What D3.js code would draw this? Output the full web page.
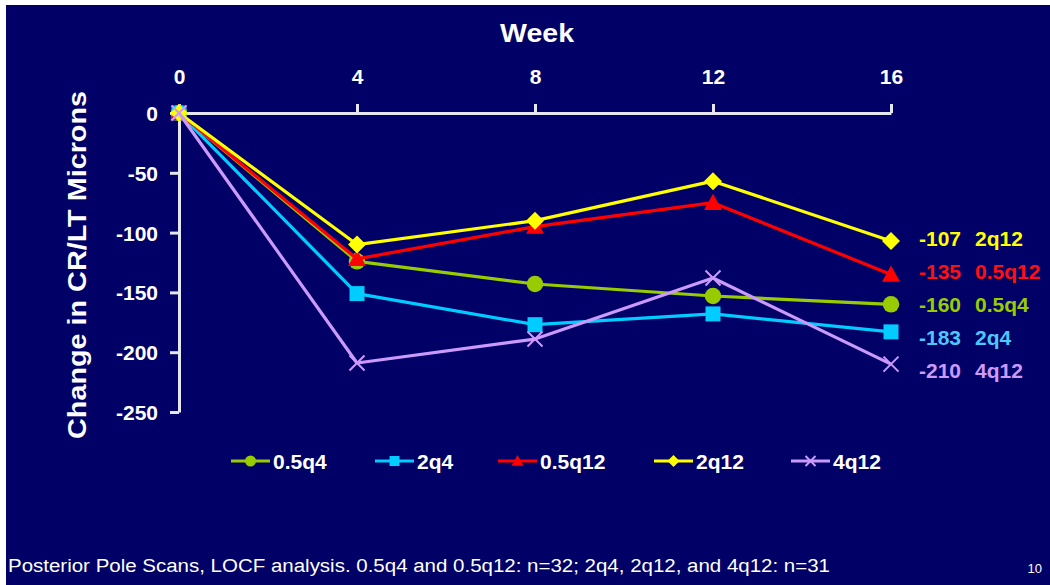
<!DOCTYPE html>
<html>
<head>
<meta charset="utf-8">
<script src="https://cdn.jsdelivr.net/npm/d3@7"></script>
<style>
  html, body { margin: 0; padding: 0; background: #ffffff; }
  svg { display: block; }
  text { font-family: "Liberation Sans", Arial, sans-serif; }
</style>
</head>
<body>
<svg id="chart" width="1050" height="585"></svg>
<script>
// Weeks on the x axis and the y-axis tick values
const weeks = [0, 4, 8, 12, 16];
const yTicks = [0, -50, -100, -150, -200, -250];

// Series names, colours and mean change in CR/LT (microns) at each week
const seriesNames = ["0.5q4", "2q4", "0.5q12", "2q12", "4q12"];
const seriesColors = ["#99cc00", "#00ccff", "#ff0000", "#ffff00", "#cc99ff"];
const seriesShapes = ["circle", "square", "triangle", "diamond", "cross"];
const values_05q4 = [0, -124, -143, -153, -160];
const values_2q4 = [0, -151, -177, -168, -183];
const values_05q12 = [0, -122, -95, -75, -135];
const values_2q12 = [0, -110, -90, -57, -107];
const values_4q12 = [0, -209, -189, -138, -210];
const seriesValues = [values_05q4, values_2q4, values_05q12, values_2q12, values_4q12];

// End-of-study labels, listed top to bottom
const endOrder = [3, 2, 0, 1, 4];
const endLabelColors = ["#99cc00", "#4cc8ff", "#ff1010", "#ffff00", "#cc99ff"];

const footnote = "Posterior Pole Scans, LOCF analysis. 0.5q4 and 0.5q12: n=32; 2q4, 2q12, and 4q12: n=31";
const pageNumber = "10";

const svg = d3.select("#chart");

// Slide background with a thin white edge at top and left
svg.append("rect").attr("x", 6).attr("y", 5).attr("width", 1044).attr("height", 580).attr("fill", "#000066");

const x = d3.scaleLinear().domain([0, 16]).range([179, 891]);
const y = d3.scaleLinear().domain([0, -250]).range([113, 412]);

const axisColor = "#e6e6ee";
const plainNumber = d => String(d);

// Top x axis
const xAxis = svg.append("g")
  .attr("transform", `translate(0,${y(0)})`)
  .call(d3.axisTop(x).tickValues(weeks).tickFormat(plainNumber)
    .tickSize(9).tickSizeOuter(0).tickPadding(20));
// Left y axis
const yAxis = svg.append("g")
  .attr("transform", `translate(${x(0)},0)`)
  .call(d3.axisLeft(y).tickValues(yTicks).tickFormat(plainNumber)
    .tickSize(9).tickSizeOuter(0).tickPadding(12));

[xAxis, yAxis].forEach(g => {
  g.select(".domain").attr("stroke", axisColor).attr("stroke-width", 3);
  g.selectAll(".tick line").attr("stroke", axisColor).attr("stroke-width", 3);
  g.selectAll(".tick text")
    .attr("fill", "#ffffff")
    .attr("font-weight", "bold")
    .attr("font-size", 21)
    .attr("font-family", "Liberation Sans, Arial, sans-serif");
});
xAxis.selectAll(".tick text").attr("dy", "0em");
yAxis.selectAll(".tick text").attr("dy", "0.36em");

// Axis titles
svg.append("text")
  .attr("x", 537).attr("y", 42)
  .attr("text-anchor", "middle")
  .attr("fill", "#ffffff").attr("font-weight", "bold").attr("font-size", 26)
  .attr("textLength", 74).attr("lengthAdjust", "spacingAndGlyphs")
  .text("Week");

svg.append("text")
  .attr("transform", "translate(86,265) rotate(-90)")
  .attr("text-anchor", "middle")
  .attr("fill", "#ffffff").attr("font-weight", "bold").attr("font-size", 26)
  .attr("textLength", 348).attr("lengthAdjust", "spacingAndGlyphs")
  .text("Change in CR/LT Microns");

// Marker drawing helper
function drawMarker(g, shape, color, cx, cy, s) {
  if (shape === "circle") {
    g.append("circle").attr("cx", cx).attr("cy", cy).attr("r", s * 0.55).attr("fill", color);
  } else if (shape === "square") {
    g.append("rect").attr("x", cx - s * 0.5).attr("y", cy - s * 0.5)
      .attr("width", s).attr("height", s).attr("fill", color);
  } else if (shape === "triangle") {
    const h = s * 0.6;
    g.append("path")
      .attr("d", `M${cx},${cy - h}L${cx + h},${cy + h * 0.8}L${cx - h},${cy + h * 0.8}Z`)
      .attr("fill", color);
  } else if (shape === "diamond") {
    const h = s * 0.6;
    g.append("path")
      .attr("d", `M${cx},${cy - h}L${cx + h},${cy}L${cx},${cy + h}L${cx - h},${cy}Z`)
      .attr("fill", color);
  } else if (shape === "cross") {
    const h = s * 0.5;
    g.append("path")
      .attr("d", `M${cx - h},${cy - h}L${cx + h},${cy + h}M${cx - h},${cy + h}L${cx + h},${cy - h}`)
      .attr("stroke", color).attr("stroke-width", 2).attr("fill", "none");
  }
}

// Series lines and markers
const line = d3.line().x((d, i) => x(weeks[i])).y(d => y(d));
seriesValues.forEach((vals, si) => {
  const g = svg.append("g");
  g.append("path").datum(vals)
    .attr("d", line)
    .attr("fill", "none")
    .attr("stroke", seriesColors[si])
    .attr("stroke-width", 3.2)
    .attr("stroke-linejoin", "round");
  vals.forEach((v, i) => drawMarker(g, seriesShapes[si], seriesColors[si], x(weeks[i]), y(v), 15));
});

// End-of-study value labels
endOrder.forEach((si, row) => {
  const vals = seriesValues[si];
  const ly = 238 + row * 33;
  const t = svg.append("text")
    .attr("y", ly).attr("dy", "0.36em")
    .attr("fill", endLabelColors[si]).attr("font-weight", "bold").attr("font-size", 21);
  t.append("tspan").attr("x", 919).text(String(vals[vals.length - 1]));
  t.append("tspan").attr("x", 975).text(seriesNames[si]);
});

// Legend
const legendX = [231, 375, 498, 654, 791];
seriesNames.forEach((name, si) => {
  const g = svg.append("g");
  const lx = legendX[si];
  const ly = 461;
  g.append("line").attr("x1", lx).attr("x2", lx + 39).attr("y1", ly).attr("y2", ly)
    .attr("stroke", seriesColors[si]).attr("stroke-width", 3.2);
  drawMarker(g, seriesShapes[si], seriesColors[si], lx + 19.5, ly, 10);
  g.append("text").attr("x", lx + 42).attr("y", ly).attr("dy", "0.36em")
    .attr("fill", "#ffffff").attr("font-weight", "bold").attr("font-size", 21)
    .text(name);
});

// Footnote and page number
svg.append("text")
  .attr("x", 8).attr("y", 572)
  .attr("fill", "#ffffff").attr("font-size", 18)
  .attr("textLength", 822).attr("lengthAdjust", "spacingAndGlyphs")
  .text(footnote);
svg.append("text")
  .attr("x", 1042).attr("y", 573).attr("text-anchor", "end")
  .attr("fill", "#ffffff").attr("font-size", 13)
  .text(pageNumber);
</script>
</body>
</html>
